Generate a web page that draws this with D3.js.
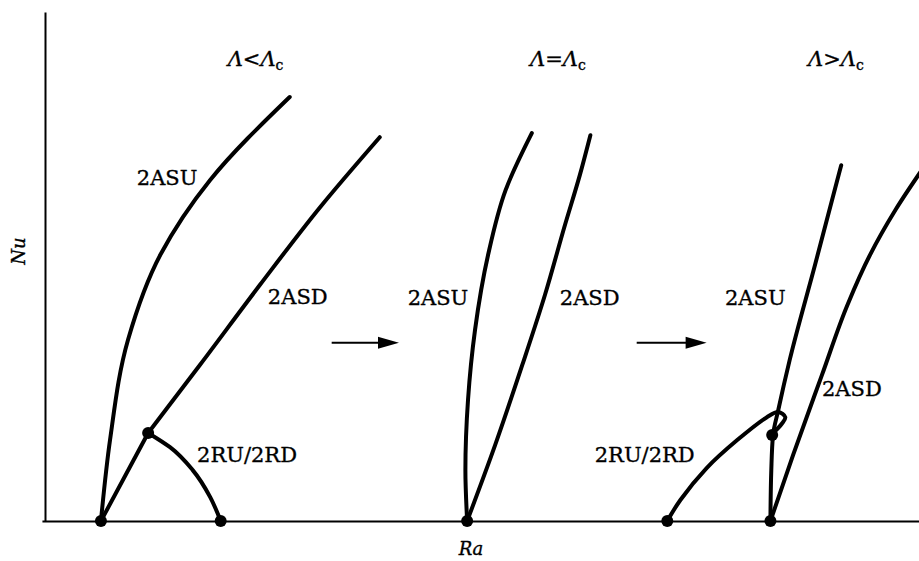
<!DOCTYPE html>
<meta charset="utf-8">
<title>Nu vs Ra bifurcation</title>
<style>
  body {
    margin: 0;
    padding: 0;
    background-color: #fff;
    overflow: hidden;
  }

  svg text {
    font-family: "DejaVu Serif", serif;
    fill: #000;
    stroke: #000;
    stroke-width: 0.35;
  }

  .branch {
    fill: none;
    stroke: #000;
    stroke-width: 4;
    stroke-linecap: round;
    stroke-linejoin: round;
  }

  .axis path {
    stroke: #000;
    stroke-width: 2;
  }

  .label {
    font-size: 21px;
  }

  .lambda {
    font-size: 21px;
  }
</style>

<body>
  <script src="https://cdn.jsdelivr.net/npm/d3@7"></script>
  <script>
    // Ra / Nu in arbitrary units (schematic)
    var asuLow = [[6.4, 0], [7.44, 15.9], [9.5, 35.6], [13.2, 52.3], [18.9, 67.0], [28.0, 83.3]];
    var asdLowStem = [[6.4, 0], [11.8, 17.3]];
    var asdLow = [[11.8, 17.3], [17.7, 30.6], [24.6, 46.4], [31.5, 61.7], [38.3, 75.4]];
    var rurdLow = [[11.8, 17.3], [14.3, 14.5], [16.9, 10.0], [18.9, 4.7], [20.1, 0]];

    var asuCrit = [[48.3, 0], [48.1, 10.0], [48.4, 23.8], [49.2, 37.5], [50.7, 52.3], [52.7, 65.0], [55.7, 76.2]];
    var asdCrit = [[48.3, 0], [51.5, 14.9], [54.6, 30.6], [57.2, 44.4], [59.5, 58.2], [61.2, 68.0], [62.4, 75.8]];

    var asuHigh = [[83.0, 0], [83.1, 10.0], [83.3, 16.9], [83.9, 21.8], [85.2, 31.6], [88.1, 50.3], [91.1, 69.9]];
    var asdHigh = [[83.0, 0], [85.6, 13.0], [88.9, 28.7], [91.8, 42.4], [94.4, 52.3], [97.3, 61.1], [100.7, 69.9]];
    var rurdHigh = [[71.2, 0], [72.7, 4.13], [75.7, 10.4], [79.2, 15.9], [82.6, 20.4], [83.9, 21.4], [84.7, 20.4], [84.3, 19.1], [83.2, 17.1]];

    var nodes = [[6.4, 0], [11.8, 17.3], [20.1, 0], [48.3, 0], [71.2, 0], [83.0, 0], [83.2, 16.9]];

    var branchLabels = [
      { text: "2ASU", ra: 10.5, nu: 66.0 },
      { text: "2ASD", ra: 25.5, nu: 42.6 },
      { text: "2RU/2RD", ra: 17.4, nu: 11.6 },
      { text: "2ASU", ra: 41.5, nu: 42.4 },
      { text: "2ASD", ra: 58.9, nu: 42.4 },
      { text: "2ASU", ra: 77.8, nu: 42.4 },
      { text: "2ASD", ra: 88.9, nu: 24.6 },
      { text: "2RU/2RD", ra: 62.9, nu: 11.6 }
    ];

    var caseLabels = [
      { rel: "<", ra: 20.9, nu: 89.4 },
      { rel: "=", ra: 55.5, nu: 89.4 },
      { rel: ">", ra: 87.3, nu: 89.4 }
    ];

    var arrows = [
      { from: 32.8, to: 40.5, nu: 35.0 },
      { from: 67.7, to: 75.7, nu: 35.0 }
    ];

    var width = 919,
      height = 561;

    var x = d3.scaleLinear().domain([0, 100]).range([45, 919]);
    var y = d3.scaleLinear().domain([0, 100]).range([521, 12]);

    var svg = d3.select("body").append("svg")
      .attr("width", width)
      .attr("height", height);

    // axes, no ticks
    var xAxisScale = x.copy().domain([-0.35, 100]).range([x(-0.35), 919]);
    svg.append("g").attr("class", "axis")
      .attr("transform", "translate(0," + y(0) + ")")
      .call(d3.axisBottom(xAxisScale).tickValues([]).tickSizeOuter(0));
    svg.append("g").attr("class", "axis")
      .attr("transform", "translate(" + x(0) + ",0)")
      .call(d3.axisLeft(y).tickValues([]).tickSizeOuter(0));

    var smooth = d3.line()
      .x(d => x(d[0]))
      .y(d => y(d[1]))
      .curve(d3.curveMonotoneY);

    var loopy = d3.line()
      .x(d => x(d[0]))
      .y(d => y(d[1]))
      .curve(d3.curveCatmullRom.alpha(0.5));

    var branches = [asuLow, asdLowStem, asdLow, rurdLow, asuCrit, asdCrit, asuHigh, asdHigh];

    var g = svg.append("g");
    g.selectAll("path.branch").data(branches)
      .enter().append("path")
      .attr("class", "branch")
      .attr("d", smooth);

    g.append("path")
      .datum(rurdHigh)
      .attr("class", "branch")
      .attr("d", loopy);

    svg.append("g").selectAll("circle").data(nodes)
      .enter().append("circle")
      .attr("cx", d => x(d[0]))
      .attr("cy", d => y(d[1]))
      .attr("r", 6)
      .attr("fill", "#000");

    // arrows between panels
    var ag = svg.append("g");
    arrows.forEach(function (a) {
      var x1 = x(a.from), x2 = x(a.to), yy = y(a.nu);
      ag.append("line")
        .attr("x1", x1).attr("x2", x2 - 16)
        .attr("y1", yy).attr("y2", yy)
        .attr("stroke", "#000").attr("stroke-width", 2);
      ag.append("path")
        .attr("d", "M" + x2 + "," + yy + "L" + (x2 - 21) + "," + (yy - 6) + "L" + (x2 - 21) + "," + (yy + 6) + "Z")
        .attr("fill", "#000");
    });

    svg.append("g").selectAll("text").data(branchLabels)
      .enter().append("text")
      .attr("class", "label")
      .attr("x", d => x(d.ra))
      .attr("y", d => y(d.nu))
      .text(d => d.text);

    var cl = svg.append("g").selectAll("text").data(caseLabels)
      .enter().append("text")
      .attr("class", "lambda")
      .attr("x", d => x(d.ra))
      .attr("y", d => y(d.nu));
    cl.append("tspan").style("font-style", "italic").text("\u039B");
    cl.append("tspan").text(d => d.rel);
    cl.append("tspan").style("font-style", "italic").text("\u039B");
    cl.append("tspan").attr("dy", 4).style("font-size", "14px").text("c");

    svg.append("text")
      .attr("x", 471).attr("y", 555)
      .attr("text-anchor", "middle")
      .style("font-style", "italic")
      .style("font-size", "18px")
      .text("Ra");

    svg.append("text")
      .attr("transform", "translate(25,251) rotate(-90)")
      .attr("text-anchor", "middle")
      .style("font-style", "italic")
      .style("font-size", "18px")
      .text("Nu");
  </script>
</body>
